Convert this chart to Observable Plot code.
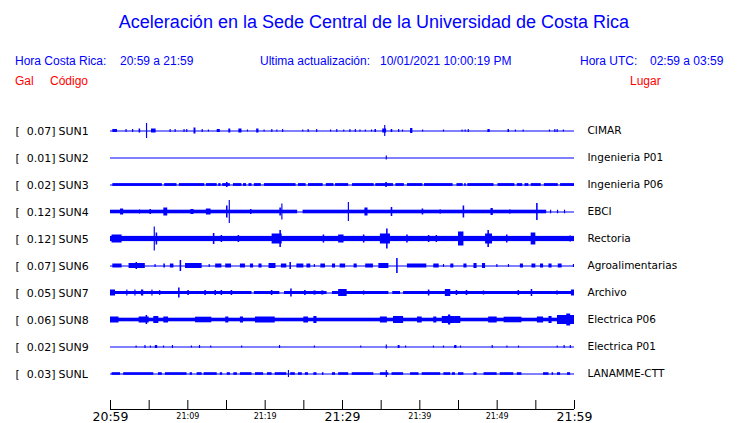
<!DOCTYPE html>
<html>
<head>
<meta charset="utf-8">
<script src="https://cdn.jsdelivr.net/npm/d3@7"></script>
<script src="https://cdn.jsdelivr.net/npm/@observablehq/plot@0.6"></script>
<style>
  html, body { margin: 0; padding: 0; background: #fff; }
  #wrap { position: relative; width: 740px; height: 423px; overflow: hidden; }
  #wrap svg { position: absolute; left: 0; top: 0; }
  .h { position: absolute; font-family: "Liberation Sans", Arial, sans-serif; line-height: 1; white-space: pre; }
  .blue { color: #0000ff; }
  .red { color: #ff0000; }
</style>
</head>
<body>
<div id="wrap">
  <div class="h blue" style="left:0;width:748px;text-align:center;top:13px;font-size:18px;">Aceleración en la Sede Central de la Universidad de Costa Rica</div>
  <div class="h blue" style="left:15px;top:55px;font-size:12px;">Hora Costa Rica:</div>
  <div class="h blue" style="left:120px;top:55px;font-size:12px;">20:59 a 21:59</div>
  <div class="h blue" style="left:260px;top:55px;font-size:12px;">Ultima actualización:</div>
  <div class="h blue" style="left:380px;top:55px;font-size:12px;">10/01/2021 10:00:19 PM</div>
  <div class="h blue" style="left:580px;top:55px;font-size:12px;">Hora UTC:</div>
  <div class="h blue" style="left:650px;top:55px;font-size:12px;">02:59 a 03:59</div>
  <div class="h red" style="left:15px;top:75px;font-size:12px;">Gal</div>
  <div class="h red" style="left:50px;top:75px;font-size:12px;">Código</div>
  <div class="h red" style="left:630px;top:75px;font-size:12px;">Lugar</div>
</div>
<script>
// ---------- data ----------
const stations = ["SUN1","SUN2","SUN3","SUN4","SUN5","SUN6","SUN7","SUN8","SUN9","SUNL"];
const galPeaks = [0.07, 0.01, 0.02, 0.12, 0.12, 0.07, 0.05, 0.06, 0.02, 0.03];
const places = ["CIMAR","Ingenieria P01","Ingenieria P06","EBCI","Rectoria","Agroalimentarias","Archivo","Electrica P06","Electrica P01","LANAMME-CTT"];

// time axis (minutes after 20:59)
const tickMarks = [0,5,10,15,20,25,30,35,40,45,50,55,60];
const tickLabelMin = [0,10,20,30,40,50,60];
const tickLabels = ["20:59","21:09","21:19","21:29","21:39","21:49","21:59"];
const tickMajor = [true,false,false,true,false,false,true];

// continuous background-noise half amplitude per station
const baseHalf = [0, 0, 1.4, 1.8, 2.6, 0, 1.5, 1.8, 0, 1.3];

// intervals [start, end] (minutes) where the background noise band is present
const band3 = [[0.3,6.7],[7.0,8.6],[8.9,12.2],[12.4,13.8],[14.0,14.3],[14.5,15.5],[15.9,17.0],[17.2,17.6],[17.9,18.3],[18.6,19.5],[19.9,24.0],[24.3,25.3],[25.6,27.5],[27.9,28.9],[29.1,30.8],[31.3,34.1],[34.3,36.6],[36.9,38.0],[38.4,40.4],[40.6,44.3],[44.8,45.6],[45.8,46.0],[46.2,49.6],[50.1,52.3],[52.6,53.3],[53.6,54.1],[54.4,55.7],[56.1,57.9],[58.2,60]];
const band4 = [[0,24.2],[24.9,56.4]];
const band5 = [[0,60]];
const band7 = [[0,18.3],[18.6,21.9],[22.5,28.0],[28.7,36.0],[36.5,37.5],[37.9,60]];
const band8 = [[0,60]];
const bandL = [[0.2,1.3],[1.7,5.6],[6.2,6.7],[7.1,9.9],[10.3,10.6],[11.2,11.85],[12.1,13.8],[14.2,14.5],[15.1,15.5],[15.95,16.4],[16.8,18.3],[18.75,19.8],[20.3,20.9],[21.3,22.8],[23.3,23.9],[24.3,24.8],[25.2,25.6],[26.3,26.7],[27.4,27.6],[28.7,29.1],[29.5,30.8],[31.25,34.05],[34.9,36.0],[36.4,37.9],[38.8,39.9],[40.3,42.7],[43.1,44.0],[44.2,44.6],[45.0,45.7],[47.0,47.4],[48.3,50.0],[50.4,52.15],[52.6,53.2],[56.0,56.7],[57.1,57.3],[57.8,58.2],[59.1,59.5]];

// bursts [start, end, half amplitude]
const burst1 = [[0.3,0.9,1.5],[2.0,2.15,1.5],[2.85,3.0,1.5],[3.7,3.9,2],[4.65,4.8,7.5],[5.3,5.9,2],[7.7,7.85,1.5],[8.35,8.5,1.5],[9.5,9.65,1.5],[9.85,10.0,1.5],[10.8,11.05,3],[11.85,12.0,1.5],[12.65,12.8,1],[13.8,14.2,1.5],[15.3,15.55,2],[16.6,17.0,2],[17.7,17.85,1],[18.9,19.2,2],[19.85,20.0,1],[20.85,21.0,1.5],[21.5,21.65,1],[22.25,22.4,1.5],[24.85,25.0,1],[25.55,25.7,1.5],[26.65,26.8,1.5],[28.45,28.6,1],[29.25,29.4,1.5],[30.15,30.3,1],[30.95,31.1,1.5],[31.65,31.8,1.5],[32.25,32.4,1],[32.95,33.1,1],[33.75,33.9,1],[34.2,34.4,1.5],[35.2,35.7,2],[35.45,35.6,5.5],[36.3,36.5,1.5],[37.25,37.4,1.5],[37.75,37.9,1],[38.8,39.1,2.5],[40.35,40.5,1],[43.05,43.2,1],[45.45,45.6,1],[45.85,46.0,1],[46.25,46.4,1.5],[48.8,49.1,1.5],[51.4,51.6,1.5],[52.35,52.5,1],[53.35,53.5,1],[56.75,56.9,1],[57.45,57.6,1.5],[57.75,57.9,1.5],[58.55,58.7,1]];
const burst2 = [[35.65,35.8,2]];
const burst3 = [[15.0,15.2,2.5],[35.6,35.8,2.5]];
const burst4 = [[1.3,1.7,3],[3.75,3.9,2],[5.1,5.3,2.5],[6.9,7.4,4],[10.4,10.8,2.5],[12.4,13.0,3],[15.0,15.2,6],[15.35,15.5,11.5],[18.1,18.3,2.5],[21.9,22.1,4],[22.15,22.3,8],[30.75,30.9,9.5],[32.9,33.3,4],[36.3,36.5,4.5],[40.3,40.5,3],[42.6,42.8,2],[45.6,45.8,6],[49.2,49.5,3.5],[51.6,51.8,2],[55.1,55.3,8.5],[56.9,57.05,1.8],[57.8,57.95,1.8],[58.7,58.85,1.8]];
const burst5 = [[0.2,1.5,4],[5.65,5.8,12],[5.9,6.1,6],[13.3,13.5,5.5],[14.3,14.5,3.5],[16.5,16.7,3.5],[20.9,22.2,5],[21.9,22.1,8.5],[27.5,27.7,4],[29.5,30.2,4],[32.7,32.9,4],[34.9,36.2,5],[35.7,35.9,10],[38.3,38.5,4],[41.1,41.3,3.5],[42.1,42.3,3.5],[45.0,45.7,7],[48.5,49.4,5],[48.8,49.0,8.5],[51.2,51.4,4],[54.4,55.0,6],[59.4,59.6,3]];
const burst6 = [[0.3,1.5,2],[2.4,4.5,2.5],[3.3,3.5,3.5],[5.75,5.9,1.5],[6.9,7.1,2],[7.75,8.2,2],[9.0,9.2,5.5],[9.7,11.85,2.5],[12.75,12.9,1.5],[13.6,14.4,2],[14.9,15.65,2],[16.8,17.45,2],[18.1,18.5,2],[19.2,19.6,2],[20.5,21.4,2.5],[22.1,22.8,2],[23.2,23.4,3.5],[24.1,25.0,2],[25.4,25.9,2],[26.35,26.5,1.5],[27.2,27.8,2],[28.7,29.1,2],[29.7,30.4,2],[31.5,31.9,2],[33.0,34.0,2],[34.7,36.0,2.5],[37.0,37.2,7.5],[38.4,40.9,2],[41.8,42.5,2],[43.05,43.2,1.5],[44.0,44.4,2],[45.7,46.1,2],[47.0,47.4,2.5],[48.1,48.5,2.5],[49.95,50.1,1.5],[51.45,51.6,1.5],[53.0,53.4,2],[54.5,55.0,2],[55.6,56.0,2],[56.7,57.1,2],[57.9,58.4,2],[59.85,60,1.5]];
const burst7 = [[0,0.65,3],[2.1,2.25,3],[3.15,3.3,3],[4.0,4.3,3],[5.35,5.5,3],[6.35,6.5,2.5],[8.8,9.0,5],[10.0,10.2,2.5],[12.2,12.4,2.5],[13.5,13.7,2.5],[14.3,14.5,2.5],[15.6,15.8,2.5],[20.8,21.0,2.5],[23.3,23.5,4],[25.1,25.3,2.5],[26.3,26.6,2],[27.3,27.6,2],[29.5,30.6,3.5],[32.7,32.9,2],[41.1,41.3,3],[43.3,44.0,3.5],[44.7,44.9,2.5],[46.0,46.2,2.5],[48.2,48.4,2],[52.7,52.9,2.5],[54.4,54.6,3.5],[57.7,57.9,2],[59.6,60,3]];
const burst8 = [[0,1.1,3],[3.7,5.0,3],[4.6,4.8,4.5],[5.6,6.25,3.5],[6.9,7.5,3],[11.0,13.1,2.8],[14.9,15.3,3],[16.8,17.2,3],[18.75,21.3,3],[25.0,25.6,3],[26.3,26.7,3.5],[34.9,35.8,3],[36.6,37.9,3.5],[39.7,40.3,3],[41.8,42.2,3],[42.9,44.6,3.5],[43.7,44.0,5],[44.6,45.3,3.5],[48.9,50.0,3],[50.9,53.2,2.8],[55.2,56.0,3],[56.7,57.1,3.5],[57.8,60,4.5],[59.0,59.5,6]];
const burst9 = [[3.3,3.45,1],[4.45,4.6,1.5],[5.15,5.3,1],[5.8,6.1,1.5],[6.85,7.0,1],[8.0,8.15,1.5],[10.45,10.6,1],[11.5,11.65,1.5],[12.95,13.1,1],[16.95,17.1,1],[21.85,22.0,1.5],[26.35,26.5,1],[32.35,32.5,1],[35.65,35.8,2],[37.2,37.45,1.5],[38.15,38.3,1],[41.75,41.9,1],[43.05,43.2,1],[44.5,44.8,1.5],[45.25,45.4,1],[49.35,49.5,1.5],[51.25,51.4,1],[52.75,52.9,1],[57.75,57.9,1],[58.65,58.8,1.5],[59.45,59.6,1.5]];
const burstL = [[23.0,23.15,3.5],[35.65,35.8,3.5]];

// ---------- build ----------
const BLUE = "#0000ff";
const GAP = 27; // amplitude units between traces
const bands = [[], [], band3, band4, band5, [], band7, band8, [], bandL];
const bursts = [burst1, burst2, burst3, burst4, burst5, burst6, burst7, burst8, burst9, burstL];

const rows = stations.map((s, i) => ({station: s, gal: galPeaks[i], place: places[i], off: i * GAP}));
const bandRows = bands.flatMap((b, i) => b.map(([t0, t1]) => ({t0, t1, lo: i * GAP - baseHalf[i], hi: i * GAP + baseHalf[i]})));
const burstRows = bursts.flatMap((b, i) => b.map(([t0, t1, h]) => ({t0, t1, lo: i * GAP - h, hi: i * GAP + h})));
const tickRows = tickLabelMin.map((m, i) => ({m, label: tickLabels[i], major: tickMajor[i]}));

const AXIS_Y = 278.5;
const font = "DejaVu Sans, Verdana, sans-serif";

const chart = Plot.plot({
  width: 740,
  height: 423,
  marginLeft: 110,
  marginRight: 166,
  marginTop: 0,
  marginBottom: 0,
  x: {domain: [0, 60], range: [110, 574], axis: null},
  y: {domain: [-130.5, 292.5], range: [0, 423], axis: null},
  style: {background: "transparent", overflow: "visible"},
  marks: [
    Plot.ruleY(rows, {y: "off", x1: 0, x2: 60, stroke: BLUE, strokeWidth: 1.1}),
    Plot.rect(bandRows, {x1: "t0", x2: "t1", y1: "lo", y2: "hi", fill: BLUE}),
    Plot.rect(burstRows, {x1: "t0", x2: "t1", y1: "lo", y2: "hi", fill: BLUE}),
    // left labels
    Plot.text(rows, {x: 0, y: "off", text: () => "[", dx: -95, textAnchor: "start", fontFamily: font, fontSize: 11, fill: "#000"}),
    Plot.text(rows, {x: 0, y: "off", text: d => d.gal.toFixed(2) + "]", dx: -55, textAnchor: "end", fontFamily: font, fontSize: 11, fill: "#000"}),
    Plot.text(rows, {x: 0, y: "off", text: "station", dx: -52, textAnchor: "start", fontFamily: font, fontSize: 11, fill: "#000"}),
    // right labels
    Plot.text(rows, {x: 60, y: "off", text: "place", dx: 13, textAnchor: "start", fontFamily: font, fontSize: 10.5, fill: "#000"}),
    // time axis
    Plot.ruleY([AXIS_Y], {x1: 0, x2: 60, stroke: "#000", strokeWidth: 1}),
    Plot.ruleX(tickMarks, {x: d => d, y1: AXIS_Y - 9, y2: AXIS_Y, stroke: "#000", strokeWidth: 1}),
    Plot.text(tickRows.filter(d => d.major), {x: "m", y: AXIS_Y, text: "label", dy: 7, fontFamily: font, fontSize: 12.5, fill: "#000"}),
    Plot.text(tickRows.filter(d => !d.major), {x: "m", y: AXIS_Y, text: "label", dy: 6.5, fontFamily: font, fontSize: 8, fill: "#000"})
  ]
});
document.getElementById("wrap").prepend(chart);
</script>
</body>
</html>
